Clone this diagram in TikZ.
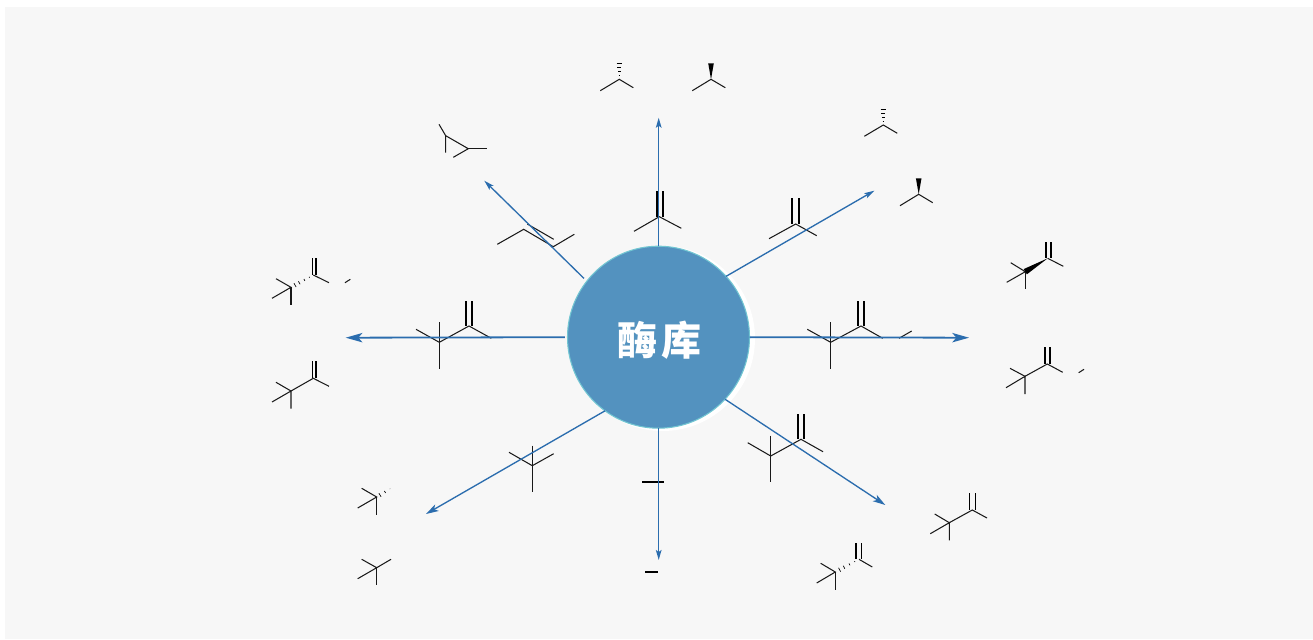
\documentclass[tikz,border=0pt]{standalone}
\usepackage{fontspec}
\newfontfamily\cjk{Noto Sans CJK SC}
\usetikzlibrary{arrows.meta,calc}
\definecolor{pagebg}{HTML}{F7F7F7}
\definecolor{hubfill}{HTML}{5392BF}
\definecolor{hubedge}{HTML}{72C6D2}
\definecolor{rayblue}{HTML}{2B6DAE}
\tikzset{
  bond/.style={black!90,line width=0.78pt,line cap=butt,line join=miter},
  dbl/.style={black,line width=1.4pt},
  ray/.style={rayblue,line width=1pt},
  axisray/.style={rayblue,line width=1.35pt},
  vertray/.style={rayblue,line width=1.15pt},
  narrowtip/.style={-{Stealth[length=7.5pt,width=4.2pt,inset=1.5pt]}},
  midtip/.style={-{Stealth[length=9.5pt,width=5.6pt,inset=2.5pt]}},
  longtip/.style={-{Stealth[length=12.5pt,width=7pt,inset=3pt]}},
  hubnode/.style={circle,draw=hubedge,line width=0.8pt,fill=hubfill,minimum size=136.5pt,inner sep=0pt,outer sep=0pt,text=white,font=\cjk\bfseries\fontsize{30pt}{30pt}\selectfont},
  wedgefill/.style={fill=black,draw=none},
  hash/.style={black,line width=0.5pt}
}
% #1 narrow end, #2 wide end, #3 half width (pt) at the wide end, #4 stripe positions
\newcommand{\hashbond}[4]{%
  \foreach \t in {#4}{%
    \pgfmathsetlengthmacro{\hw}{\t*#3}%
    \draw[hash] ($#1!\t!#2!\hw!90:#2$) -- ($#1!\t!#2!\hw!-90:#2$);
  }%
}
\newcommand{\solidwedge}[3]{%
  \fill[wedgefill] #1 -- ($#2!#3!90:#1$) -- ($#2!#3!-90:#1$) -- cycle;
}
\begin{document}
\begin{tikzpicture}[x=0.75pt,y=-0.75pt]
\useasboundingbox (0,0) rectangle (1313,639);
\fill[white] (0,0) rectangle (1313,639);
\fill[pagebg] (5,7) rectangle (1313,639);

% --- molecules
% top iPr pair
\draw[bond] (600.3,90.7) -- (619.3,79.3) -- (633.3,87.7);
\hashbond{(619.3,79.3)}{(619.3,63.3)}{2pt}{0.22,0.47,0.72,0.97}
\draw[bond] (692.3,90.7) -- (711,79.3) -- (725.3,87.7);
\solidwedge{(711,79.3)}{(711,63.3)}{2.1pt}
% cyclopropane
\draw[bond] (439,124.3) -- (445.7,135.7) -- (445.7,152.7);
\draw[bond] (445.7,135.7) -- (468.3,148.7) -- (453.3,157.3);
\draw[bond] (468.3,148.7) -- (486.7,148.7);
% butene
\draw[bond] (497.3,244.3) -- (523.7,229.3) -- (553.3,246.7) -- (574.3,234.3);
\draw[bond] (527.3,224) -- (553.7,239.3);
% top isobutene
\draw[bond] (634,231.3) -- (659.3,216.7) -- (681.3,228.3);
\draw[dbl] (657,191) -- (657,216.7);
\draw[dbl] (663.3,191) -- (663.3,216.7);
% NE isobutene
\draw[bond] (769,238.7) -- (795.7,224) -- (816.7,235.7);
\draw[dbl] (792.3,198) -- (792.3,224);
\draw[dbl] (799,198) -- (799,224);
% NE iPr pair
\draw[bond] (864.3,136.3) -- (883.3,125) -- (897.3,133.3);
\hashbond{(883.3,125)}{(883.3,109)}{2pt}{0.22,0.47,0.72,0.97}
\draw[bond] (900,205.7) -- (918.7,194.3) -- (932.7,202.7);
\solidwedge{(918.7,194.3)}{(918.7,178.3)}{2.1pt}
% E wedge molecule
\draw[bond] (1010.7,262.7) -- (1025.3,271.7) -- (1006.7,282.3);
\draw[bond] (1025.3,271.7) -- (1025.3,288.7);
\solidwedge{(1047.7,258.3)}{(1025.3,271.7)}{2.3pt}
\draw[bond] (1047.7,258.3) -- (1063.3,266.3);
\draw[dbl,line width=1.1pt] (1046,242.3) -- (1046,258.3);
\draw[dbl,line width=1.1pt] (1051,242.3) -- (1051,258.3);
% E lower molecule
\draw[bond] (1010,368.3) -- (1025,376.3) -- (1047.3,364) -- (1062.7,372.3);
\draw[bond] (1006,387.7) -- (1025,376.3) -- (1025,394);
\draw[dbl,line width=1.1pt] (1045,347) -- (1045,364);
\draw[dbl,line width=1.1pt] (1050,347) -- (1050,364);
\draw[bond] (1078.7,372.7) -- (1084,369.3);
% E middle molecule
\draw[bond] (807.3,329.3) -- (830.7,342.3) -- (861,326) -- (882.7,338.3);
\draw[bond] (830.7,322.3) -- (830.7,368.7);
\draw[dbl] (858,301) -- (858,326);
\draw[dbl] (864,301) -- (864,326);
\draw[bond] (899,338.3) -- (911.7,331);
% SE molecule on arrow
\draw[bond] (747.7,442.7) -- (770.7,456) -- (801,439.3) -- (823,451.7);
\draw[bond] (770.7,435.7) -- (770.7,482.3);
\draw[dbl] (798,414) -- (798,439.3);
\draw[dbl] (804,414) -- (804,439.3);
% SE right
\draw[bond] (934.7,514) -- (949.3,522.7) -- (972.3,510) -- (987,518);
\draw[bond] (930.3,533.7) -- (949.3,522.7) -- (949.3,540.3);
\draw[dbl,line width=1.1pt] (969.3,493.3) -- (969.3,510);
\draw[dbl,line width=1.1pt] (975.7,493.3) -- (975.7,510);
% SE bottom hashed
\draw[bond] (820.7,563.3) -- (835.3,572) -- (816.7,583);
\draw[bond] (835.3,572) -- (835.3,589.7);
\hashbond{(859,559.3)}{(835.3,572)}{2pt}{0.18,0.4,0.63,0.82}
\draw[bond] (859,559.3) -- (872.3,567);
\draw[dbl,line width=1.1pt] (856,543.3) -- (856,559.3);
\draw[dbl,line width=1.1pt] (861.7,543.3) -- (861.7,559.3);
% W upper hashed
\draw[bond] (276,278.7) -- (291,287.3) -- (272,298.3);
\draw[bond] (291,287.3) -- (291,304.7);
\hashbond{(313.3,275)}{(291,287.3)}{2pt}{0.18,0.4,0.63,0.82}
\draw[bond] (313.3,275) -- (329,282.7);
\draw[dbl,line width=1.1pt] (312.3,258.3) -- (312.3,275);
\draw[dbl,line width=1.1pt] (316,258.3) -- (316,275);
\draw[bond] (345,282.7) -- (350.3,279.3);
% W lower
\draw[bond] (276,382.3) -- (291,391) -- (313.3,378.3) -- (329,386.3);
\draw[bond] (272,402) -- (291,391) -- (291,408.7);
\draw[dbl,line width=1.1pt] (312.3,361.3) -- (312.3,378.3);
\draw[dbl,line width=1.1pt] (316,361.3) -- (316,378.3);
% W middle
\draw[bond] (416,329.3) -- (439.3,342.3) -- (469,326) -- (491.3,338.3);
\draw[bond] (439.3,322.3) -- (439.3,368.7);
\draw[dbl] (466,301) -- (466,326);
\draw[dbl] (472.3,301) -- (472.3,326);
% SW on arrow
\draw[bond] (509,452.3) -- (532.3,465.7) -- (553.7,453.7);
\draw[bond] (532.3,445.7) -- (532.3,491.7);
% SW small
\draw[bond] (361.7,488.3) -- (376.7,497) -- (357.7,508);
\draw[bond] (376.7,497) -- (376.7,514.7);
\hashbond{(391,488.3)}{(376.7,497)}{2pt}{0.07,0.42,0.77}
\draw[bond] (361.7,559.3) -- (376.7,567.7) -- (357.7,578.7);
\draw[bond] (376.7,567.7) -- (376.7,585.3);
\draw[bond] (376.7,567.7) -- (391,559.3);
% S dashes
\draw[dbl,line width=1.2pt] (642,481.7) -- (664,481.7);
\draw[dbl,line width=1.2pt] (645,571.7) -- (658,571.7);

% --- hub
\fill[white] (662.5,338.5) circle[radius=92.5];
\node[hubnode] (hub) at (658.5,337.2) {\vbox{\vskip3.8pt\hbox{\hspace{1.5pt}酶\hspace{3pt}库}}};

% --- ray ends
\coordinate (tipN) at (658.7,117.7);
\coordinate (tipNE) at (874.3,190.7);
\coordinate (tipE) at (969,337.7);
\coordinate (tipSE) at (885.3,505);
\coordinate (tipS) at (658.7,560);
\coordinate (tipSW) at (426,514);
\coordinate (tipW) at (345.7,337.7);
\coordinate (tipNW) at (484.3,180.7);

\draw[vertray,narrowtip] (hub.north -| tipN) -- (tipN);
\draw[ray,narrowtip] (hub.42) -- (tipNE);
\draw[axisray,longtip] (hub.east) -- (tipE);
\draw[ray,midtip] (hub.-43.8) -- (tipSE);
\draw[vertray,narrowtip] (hub.south -| tipS) -- (tipS);
\draw[ray,midtip] (hub.-126) -- (tipSW);
\draw[axisray,longtip,shorten <=2pt] (hub.west) -- (tipW);
\draw[ray,narrowtip,shorten <=3pt] (hub.142.5) -- (tipNW);
\end{tikzpicture}
\end{document}
